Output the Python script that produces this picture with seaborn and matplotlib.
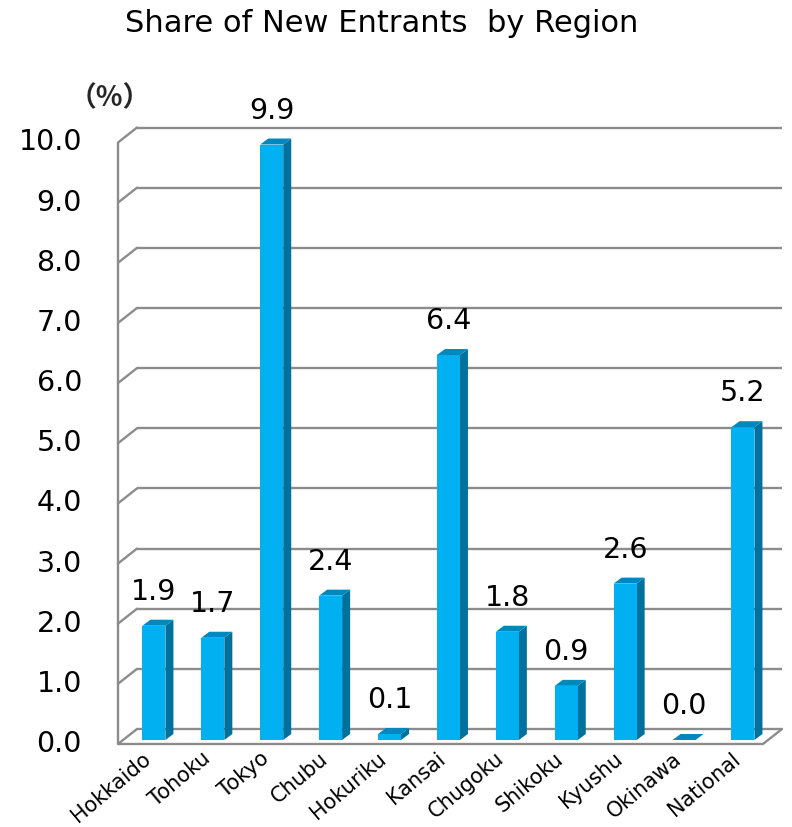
import numpy as np
import pandas as pd
import matplotlib
matplotlib.use('Agg')
import matplotlib.pyplot as plt
import seaborn as sns
from matplotlib.transforms import ScaledTranslation, IdentityTransform
from matplotlib.patches import Polygon
from matplotlib.lines import Line2D

# ---- data ----
regions = ["Hokkaido", "Tohoku", "Tokyo", "Chubu", "Hokuriku", "Kansai",
           "Chugoku", "Shikoku", "Kyushu", "Okinawa", "National"]
values = [1.9, 1.7, 9.9, 2.4, 0.1, 6.4, 1.8, 0.9, 2.6, 0.0, 5.2]
value_labels = ["1.9", "1.7", "9.9", "2.4", "0.1", "6.4", "1.8", "0.9", "2.6", "0.0", "5.2"]
yticks = [0, 1, 2, 3, 4, 5, 6, 7, 8, 9, 10]
ytick_labels = ["0.0", "1.0", "2.0", "3.0", "4.0", "5.0", "6.0", "7.0", "8.0", "9.0", "10.0"]
title = "Share of New Entrants  by Region"
unit = "（%）"

sns.set_theme(style="white")
plt.rcParams['font.family'] = ['DejaVu Sans', 'Noto Sans CJK JP']

W, H = 792, 827
fig = plt.figure(figsize=(W / 100, H / 100), dpi=100)
L, R, B, T = 118, 763, 740, 138.5
ax = fig.add_axes([L / W, (H - B) / H, (R - L) / W, (B - T) / H])

df = pd.DataFrame({"region": regions, "value": values})
sns.barplot(data=df, x="region", y="value", color="#00B0F0", saturation=1,
            width=0.39, errorbar=None, ax=ax, zorder=3, linewidth=0)

xmin, xmax = -0.61, 10.34
ax.set_xlim(xmin, xmax)
ax.set_ylim(0, 10)
ax.set_autoscale_on(False)
for s in ax.spines.values():
    s.set_visible(False)
ax.set_xlabel("")
ax.set_ylabel("")
ax.set_xticks([])
ax.set_yticks([])
ax.grid(False)


def px(dx, dy):
    return ScaledTranslation(dx / 100, dy / 100, fig.dpi_scale_trans)


back = ax.transData + px(19, 11)
front = ax.transData + px(0, -4)
gcol = "#8C8C8C"
glw = 1.7

# back wall gridlines
ax.hlines(yticks, xmin, xmax, colors=gcol, lw=glw, transform=back, zorder=1, clip_on=False)
# left wall front edge
ax.vlines(xmin, 0, 10, colors=gcol, lw=glw, transform=front, zorder=1, clip_on=False)
# floor front edge
ax.hlines(0, xmin, xmax, colors=gcol, lw=glw, transform=front, zorder=1, clip_on=False)
# diagonals
diag_pts = [(xmin, v) for v in yticks] + [(xmax, 0)]
for (x, v) in diag_pts:
    p1 = front.transform((x, v))
    p2 = back.transform((x, v))
    ax.add_line(Line2D([p1[0], p2[0]], [p1[1], p2[1]], color=gcol, lw=glw,
                       transform=IdentityTransform(), zorder=1, clip_on=False))

# 3D faces for bars
dx, dy = 8, 6
bars = list(ax.patches)
for p in bars:
    x0, w, h = p.get_x(), p.get_width(), p.get_height()
    tl = ax.transData.transform((x0, h))
    tr = ax.transData.transform((x0 + w, h))
    br = ax.transData.transform((x0 + w, 0))
    side = Polygon([br, tr, tr + [dx, dy], br + [dx, dy]], closed=True,
                   facecolor="#00709C", edgecolor="none", transform=IdentityTransform(),
                   zorder=2.9, clip_on=False)
    top = Polygon([tl, tr, tr + [dx, dy], tl + [dx, dy]], closed=True,
                  facecolor="#0088BE", edgecolor="none", transform=IdentityTransform(),
                  zorder=3.1, clip_on=False)
    ax.add_patch(side)
    ax.add_patch(top)

# data labels
for p, lab in zip(bars, value_labels):
    cx = p.get_x() + p.get_width() / 2
    ax.annotate(lab, (cx, p.get_height()), xytext=(0, 34 * 0.72), textcoords="offset points",
                ha="center", va="center", fontsize=20.5, color="black", zorder=5)

# y tick labels
for v, lab in zip(yticks, ytick_labels):
    ax.text(xmin, v, lab, transform=ax.transData + px(-36, -4), ha="right", va="center",
            fontsize=20.5, color="black", clip_on=False)

# x tick labels
for i, lab in enumerate(regions):
    ax.text(i, 0, lab, transform=ax.transData + px(-12, -8.5), ha="right", va="top",
            rotation=40, rotation_mode="anchor", fontsize=15, color="black", clip_on=False)

fig.text(110 / W, 1 - 98 / H, unit, fontsize=20, fontweight="bold",
         family=["Noto Sans CJK JP", "DejaVu Sans"], ha="center", va="center")
fig.text(382 / W, 1 - 24 / H, title, fontsize=22, ha="center", va="center", color="black")

fig.savefig("out.png", dpi=100)
